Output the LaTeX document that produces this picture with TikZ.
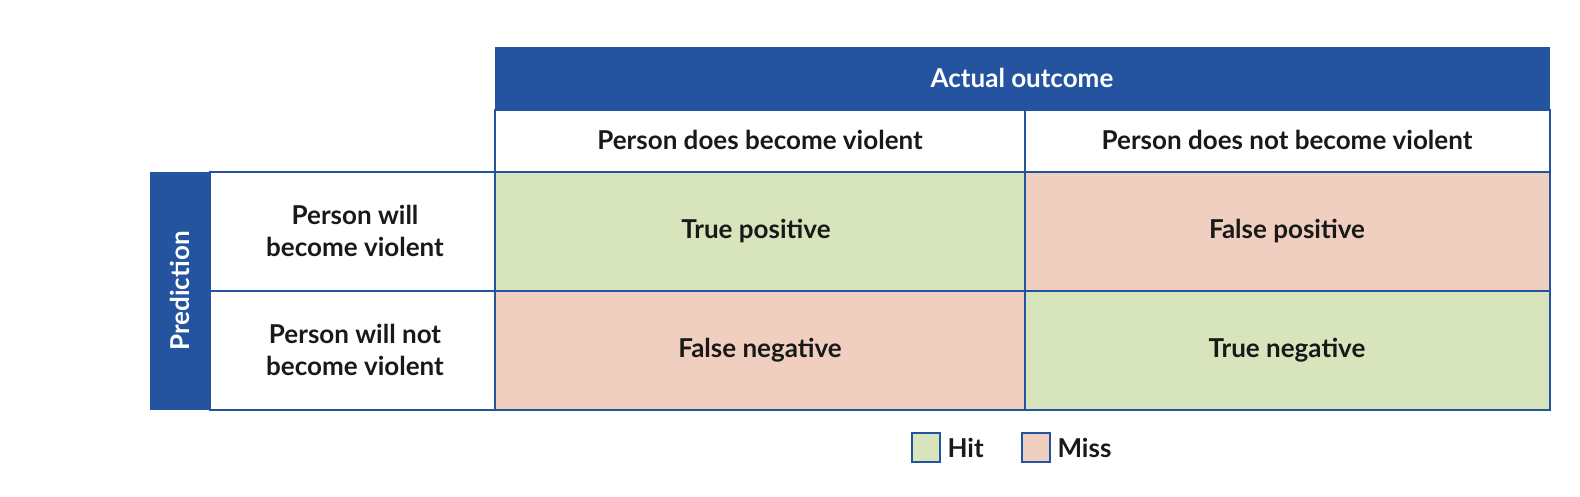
\documentclass[tikz,border=0pt]{standalone}
\usepackage{fontspec}
\setmainfont{Lato}
\begin{document}
\begin{tikzpicture}[x=1pt,y=-1pt,
  cell/.style={draw=bl, line width=1.5pt},
  txt/.style={font=\fontsize{26}{32}\selectfont\bfseries, text=black!90, align=center},
  wtxt/.style={font=\fontsize{26}{32}\selectfont\bfseries, text=white, align=center}]
\definecolor{bl}{HTML}{2453A0}
\definecolor{hit}{HTML}{D8E4BC}
\definecolor{miss}{HTML}{F0CFC0}
\useasboundingbox (0,0) rectangle (1580,496);
% header
\fill[bl] (495,47) rectangle (1550,110);
\node[wtxt] (ao) at (1022,78) {Actual outcome};
\draw[cell] (495,110) rectangle (1025,172);
\draw[cell] (1025,110) rectangle (1550,172);
\node[txt] (c1) at (760,140) {Person does become violent};
\node[txt] (c2) at (1287,140) {Person does not become violent};
% prediction bar
\fill[bl] (150,172) rectangle (210,410);
\node[wtxt, rotate=90] (pr) at (180,291) {Prediction};
% row labels
\draw[cell] (210,172) rectangle (495,291);
\draw[cell] (210,291) rectangle (495,410);
\node[txt] (r1) at (355,231) {Person will\\become violent};
\node[txt] (r2) at (355,350) {Person will not\\become violent};
% cells
\filldraw[cell, fill=hit] (495,172) rectangle (1025,291);
\filldraw[cell, fill=miss] (1025,172) rectangle (1550,291);
\filldraw[cell, fill=miss] (495,291) rectangle (1025,410);
\filldraw[cell, fill=hit] (1025,291) rectangle (1550,410);
\node[txt] (tp) at (756,231) {True positive};
\node[txt] (fp) at (1287,231) {False positive};
\node[txt] (fn) at (760,350) {False negative};
\node[txt] (tn) at (1287,350) {True negative};
% legend
\filldraw[cell, fill=hit] (912,433) rectangle (940,462);
\node[txt, anchor=west] (hit) at (944,448) {Hit};
\filldraw[cell, fill=miss] (1022,433) rectangle (1050,462);
\node[txt, anchor=west] (miss) at (1054,448) {Miss};
\end{tikzpicture}
\end{document}
